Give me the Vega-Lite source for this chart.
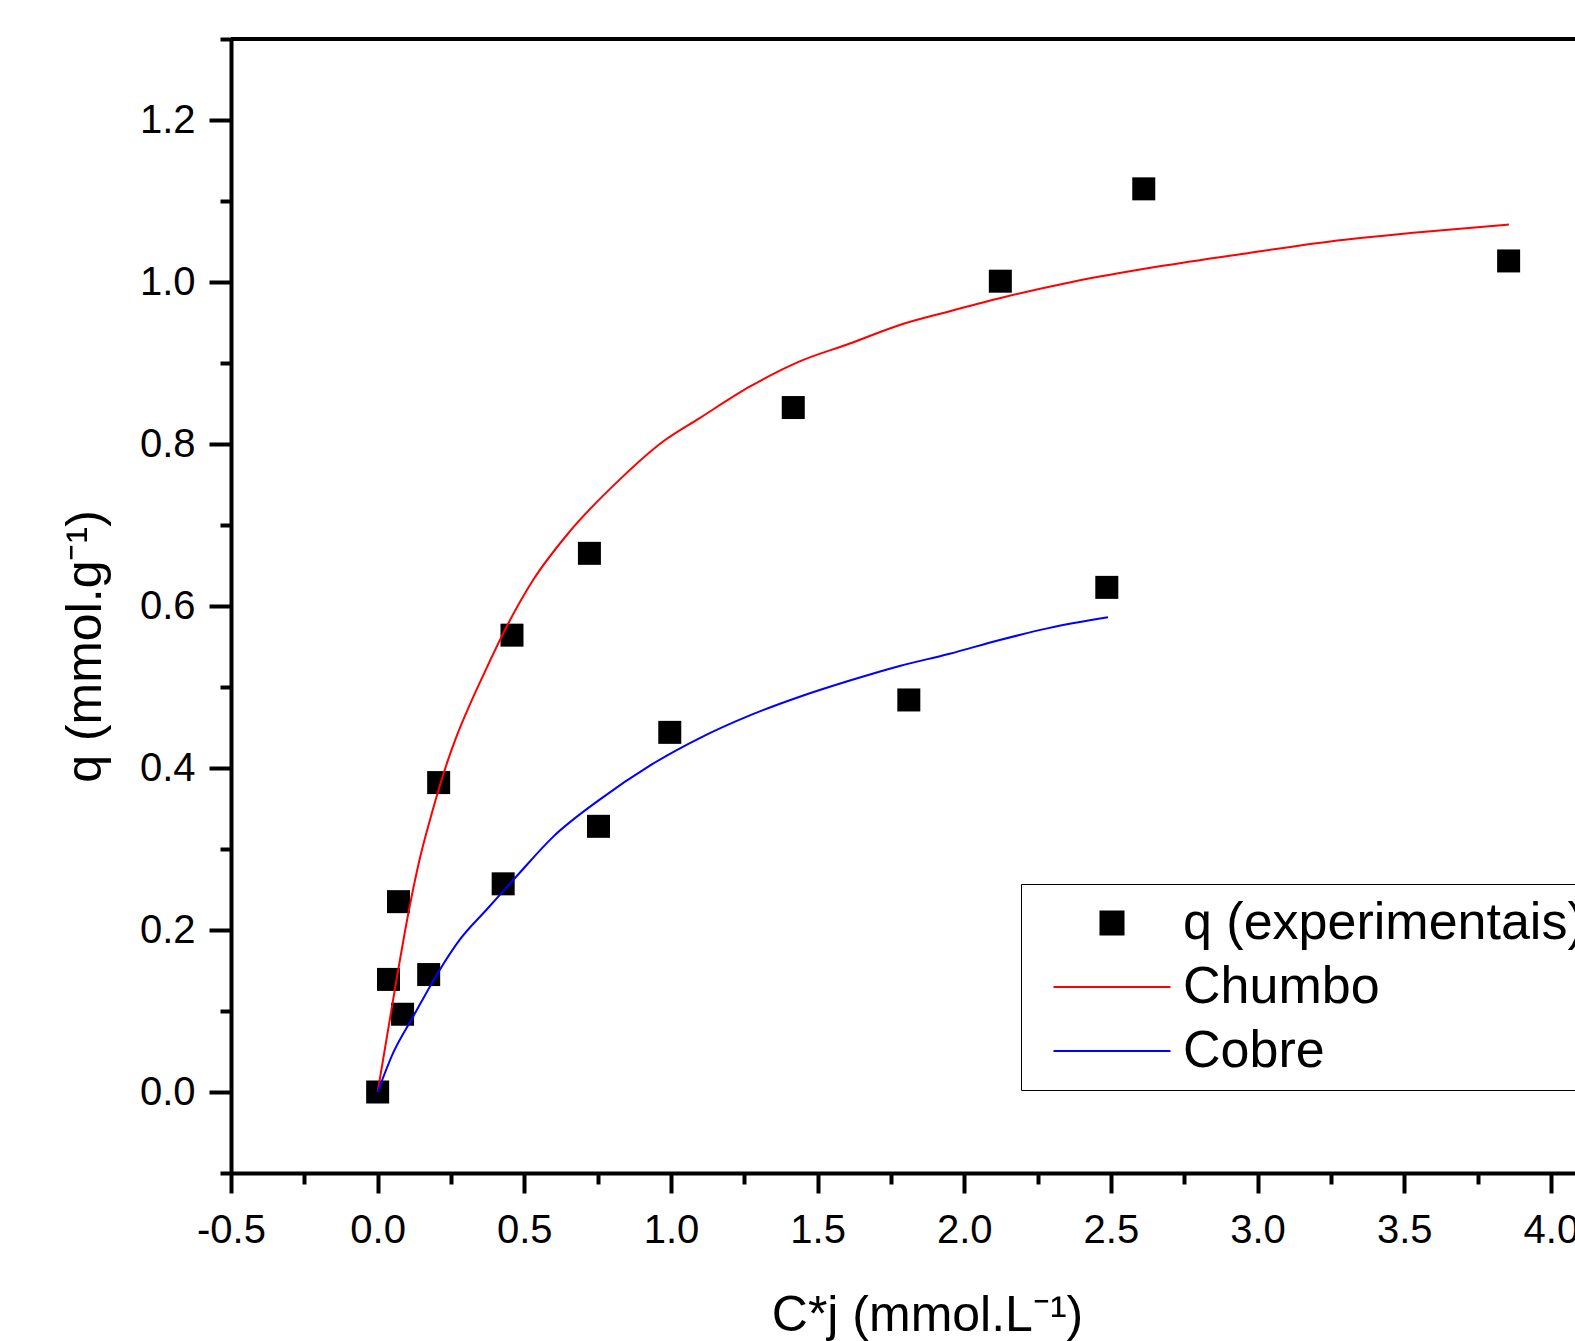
{
  "$schema": "https://vega.github.io/schema/vega-lite/v6.json",
  "autosize": "none",
  "width": 1344,
  "height": 1134,
  "padding": {"left": 231, "top": 39, "right": 0, "bottom": 168},
  "background": "white",
  "config": {"view": {"stroke": null}, "font": "Liberation Sans"},
  "data": {"values": [
    {"series": "q (experimentais)", "C": 0.0, "q": 0.0},
    {"series": "q (experimentais)", "C": 0.037, "q": 0.139},
    {"series": "q (experimentais)", "C": 0.071, "q": 0.235},
    {"series": "q (experimentais)", "C": 0.085, "q": 0.096},
    {"series": "q (experimentais)", "C": 0.174, "q": 0.145},
    {"series": "q (experimentais)", "C": 0.208, "q": 0.382},
    {"series": "q (experimentais)", "C": 0.428, "q": 0.257},
    {"series": "q (experimentais)", "C": 0.458, "q": 0.564},
    {"series": "q (experimentais)", "C": 0.722, "q": 0.665},
    {"series": "q (experimentais)", "C": 0.753, "q": 0.328},
    {"series": "q (experimentais)", "C": 0.996, "q": 0.444},
    {"series": "q (experimentais)", "C": 1.417, "q": 0.845},
    {"series": "q (experimentais)", "C": 1.811, "q": 0.484},
    {"series": "q (experimentais)", "C": 2.123, "q": 1.001},
    {"series": "q (experimentais)", "C": 2.486, "q": 0.623},
    {"series": "q (experimentais)", "C": 2.612, "q": 1.115},
    {"series": "q (experimentais)", "C": 3.856, "q": 1.026},
    {"series": "Chumbo", "C": 0.0, "q": 0.0},
    {"series": "Chumbo", "C": 0.064, "q": 0.138},
    {"series": "Chumbo", "C": 0.107, "q": 0.225},
    {"series": "Chumbo", "C": 0.145, "q": 0.29},
    {"series": "Chumbo", "C": 0.18, "q": 0.338},
    {"series": "Chumbo", "C": 0.21, "q": 0.376},
    {"series": "Chumbo", "C": 0.24, "q": 0.41},
    {"series": "Chumbo", "C": 0.27, "q": 0.44},
    {"series": "Chumbo", "C": 0.314, "q": 0.478},
    {"series": "Chumbo", "C": 0.371, "q": 0.523},
    {"series": "Chumbo", "C": 0.439, "q": 0.574},
    {"series": "Chumbo", "C": 0.53, "q": 0.632},
    {"series": "Chumbo", "C": 0.655, "q": 0.692},
    {"series": "Chumbo", "C": 0.825, "q": 0.756},
    {"series": "Chumbo", "C": 0.973, "q": 0.803},
    {"series": "Chumbo", "C": 1.098, "q": 0.832},
    {"series": "Chumbo", "C": 1.27, "q": 0.871},
    {"series": "Chumbo", "C": 1.439, "q": 0.902},
    {"series": "Chumbo", "C": 1.61, "q": 0.924},
    {"series": "Chumbo", "C": 1.78, "q": 0.947},
    {"series": "Chumbo", "C": 1.951, "q": 0.964},
    {"series": "Chumbo", "C": 2.121, "q": 0.98},
    {"series": "Chumbo", "C": 2.367, "q": 1.0},
    {"series": "Chumbo", "C": 2.661, "q": 1.019},
    {"series": "Chumbo", "C": 2.954, "q": 1.035},
    {"series": "Chumbo", "C": 3.248, "q": 1.05},
    {"series": "Chumbo", "C": 3.541, "q": 1.061},
    {"series": "Chumbo", "C": 3.857, "q": 1.071},
    {"series": "Cobre", "C": 0.0, "q": 0.0},
    {"series": "Cobre", "C": 0.0525, "q": 0.048},
    {"series": "Cobre", "C": 0.121, "q": 0.093},
    {"series": "Cobre", "C": 0.212, "q": 0.151},
    {"series": "Cobre", "C": 0.28, "q": 0.188},
    {"series": "Cobre", "C": 0.371, "q": 0.225},
    {"series": "Cobre", "C": 0.473, "q": 0.266},
    {"series": "Cobre", "C": 0.598, "q": 0.315},
    {"series": "Cobre", "C": 0.757, "q": 0.361},
    {"series": "Cobre", "C": 0.928, "q": 0.403},
    {"series": "Cobre", "C": 1.098, "q": 0.437},
    {"series": "Cobre", "C": 1.269, "q": 0.465},
    {"series": "Cobre", "C": 1.439, "q": 0.488},
    {"series": "Cobre", "C": 1.61, "q": 0.508},
    {"series": "Cobre", "C": 1.78, "q": 0.526},
    {"series": "Cobre", "C": 1.95, "q": 0.541},
    {"series": "Cobre", "C": 2.121, "q": 0.558},
    {"series": "Cobre", "C": 2.291, "q": 0.573},
    {"series": "Cobre", "C": 2.49, "q": 0.586}
  ]},
  "layer": [
    {
      "mark": {"type": "rule", "color": "black", "strokeWidth": 4},
      "encoding": {
        "y": {"datum": 1.3, "type": "quantitative", "scale": {"domain": [-0.1, 1.3], "nice": false, "zero": false}, "axis": {"title": "q (mmol.g⁻¹)"}}
      }
    },
    {
      "transform": [{"filter": "datum.series === 'q (experimentais)'"}],
      "mark": {"type": "point", "shape": "square", "filled": true, "size": 529, "opacity": 1},
      "encoding": {
        "x": {
          "field": "C", "type": "quantitative",
          "scale": {"domain": [-0.5, 4.0823], "nice": false, "zero": false},
          "axis": {
            "values": [-0.5, -0.25, 0, 0.25, 0.5, 0.75, 1.0, 1.25, 1.5, 1.75, 2.0, 2.25, 2.5, 2.75, 3.0, 3.25, 3.5, 3.75, 4.0],
            "labelExpr": "abs(datum.value*2 - round(datum.value*2)) > 0.01 ? '' : (datum.value < 0 ? '-' : '') + format(abs(datum.value), '.1f')",
            "tickSize": {"condition": {"test": "abs(datum.value*2 - round(datum.value*2)) > 0.01", "value": 11}, "value": 20},
            "tickWidth": 4, "tickColor": "black", "domainColor": "black", "domainWidth": 4,
            "labelFontSize": 40, "labelColor": "black", "labelFont": "Liberation Sans",
            "labelPadding": 17, "labelFlush": false, "labelOverlap": false,
            "grid": false,
            "title": "C*j (mmol.L⁻¹)", "titleFontSize": 50, "titleFontWeight": "normal", "titleColor": "black", "titleFont": "Liberation Sans",
            "titleX": 696, "titleY": 157, "titleBaseline": "alphabetic", "titleAlign": "center"
          }
        },
        "y": {
          "field": "q", "type": "quantitative",
          "scale": {"domain": [-0.1, 1.3], "nice": false, "zero": false},
          "axis": {
            "values": [-0.1, 0, 0.1, 0.2, 0.3, 0.4, 0.5, 0.6, 0.7, 0.8, 0.9, 1.0, 1.1, 1.2, 1.3],
            "labelExpr": "abs(datum.value*5 - round(datum.value*5)) > 0.01 ? '' : (datum.value < 0 ? '-' : '') + format(abs(datum.value), '.1f')",
            "tickSize": {"condition": {"test": "abs(datum.value*5 - round(datum.value*5)) > 0.01", "value": 11}, "value": 22},
            "tickWidth": 4, "tickColor": "black", "domainColor": "black", "domainWidth": 4,
            "labelFontSize": 40, "labelColor": "black", "labelFont": "Liberation Sans",
            "labelPadding": 14, "labelFlush": false, "labelOverlap": false,
            "grid": false,
            "title": "q (mmol.g⁻¹)", "titleFontSize": 50, "titleFontWeight": "normal", "titleColor": "black", "titleFont": "Liberation Sans",
            "titleX": -131, "titleY": 607, "titleAngle": 270, "titleBaseline": "alphabetic", "titleAlign": "center"
          }
        },
        "color": {
          "field": "series", "type": "nominal",
          "scale": {"domain": ["q (experimentais)", "Chumbo", "Cobre"], "range": ["black", "#ff0000", "#0000ff"]},
          "legend": {
            "title": null, "orient": "none", "legendX": 790, "legendY": 845,
            "padding": 13, "strokeColor": "black", "fillColor": "white",
            "labelFontSize": 52, "labelFont": "Liberation Sans", "labelColor": "black", "labelLimit": 2000,
            "symbolSize": 2304, "symbolOffset": 52, "labelOffset": 45, "rowPadding": 12,
            "symbolType": "square", "symbolStrokeWidth": 2, "symbolOpacity": 1,
            "encode": {
              "symbols": {
                "update": {
                  "shape": {"signal": "datum.value === 'q (experimentais)' ? 'square' : 'M-2.4375,0H2.4375'"},
                  "size": {"signal": "datum.value === 'q (experimentais)' ? 529 : 2304"},
                  "fill": {"signal": "datum.value === 'q (experimentais)' ? 'black' : 'transparent'"},
                  "stroke": {"signal": "datum.value === 'Chumbo' ? '#ff0000' : (datum.value === 'Cobre' ? '#0000ff' : 'transparent')"}
                }
              }
            }
          }
        }
      }
    },
    {
      "transform": [{"filter": "datum.series !== 'q (experimentais)'"}],
      "mark": {"type": "line", "strokeWidth": 2, "interpolate": "monotone"},
      "encoding": {
        "x": {"field": "C", "type": "quantitative", "scale": {"domain": [-0.5, 4.0823], "nice": false, "zero": false}, "axis": {"title": "C*j (mmol.L⁻¹)"}},
        "y": {"field": "q", "type": "quantitative", "scale": {"domain": [-0.1, 1.3], "nice": false, "zero": false}, "axis": {"title": "q (mmol.g⁻¹)"}},
        "color": {"field": "series", "type": "nominal", "scale": {"domain": ["q (experimentais)", "Chumbo", "Cobre"], "range": ["black", "#ff0000", "#0000ff"]}, "legend": null}
      }
    }
  ]
}
